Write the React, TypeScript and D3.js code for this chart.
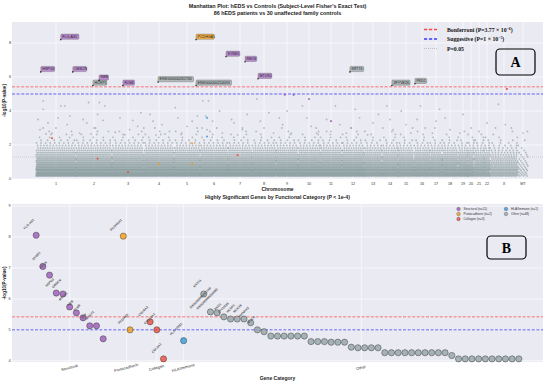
import React from "react";
import * as d3 from "d3";

const W = 550;
const H = 383;

// ---------- Panel A data ----------
const CHROMS = ["1","2","3","4","5","6","7","8","9","10","11","12","13","14","15","16","17","18","19","20","21","22","X","MT"];
// relative genomic span of each chromosome on the axis
const CHROM_SIZES = [40,36,32,30,26,28,24,24,22,22,22,22,18,16,16,16,12,16,10,6,10,6,28,10];
// relative variant density per chromosome
const CHROM_DENSITY = [1,1,1,1,1,1,1,1,1,1,1,1,0.9,0.9,0.9,0.9,0.9,0.9,0.9,0.9,0.8,0.8,0.55,0.25];
// discrete -log10(P) levels produced by the subject-level Fisher test and their point density (points per unit)
const P_LEVELS = [0.18,0.25,0.33,0.41,0.5,0.58,0.67,0.76,0.86,0.96,1.07,1.18,1.3,1.42,1.55,1.68,1.82,1.97,2.12,2.28,2.45,2.62,2.8,3.0];
const LEVEL_DENSITY = [1.1,1.2,1.3,1.3,1.3,1.25,1.2,1.15,1.1,1.0,0.95,0.9,0.8,0.7,0.6,0.5,0.42,0.32,0.22,0.15,0.1,0.065,0.045,0.03];
// sparse variants above the dense band: [chromosome, position fraction, -log10 P]
const OUTLIERS: [string, number, number][] = [
  ["1",0.18,4.6],["1",0.18,4.1],["1",0.62,4.3],["1",0.72,4.3],["1",0.3,3.3],["1",0.5,3.0],["1",0.85,3.7],["1",0.1,2.9],["1",0.4,2.7],["1",0.9,2.6],["1",0.55,3.6],["1",0.25,2.65],["1",0.78,3.2],["1",0.05,3.5],
  ["2",0.35,4.5],["2",0.65,4.5],["2",0.8,4.3],["2",0.2,3.5],["2",0.5,3.0],["2",0.9,2.8],["2",0.1,2.7],["2",0.6,3.8],["2",0.42,2.65],["2",0.3,3.3],["2",0.75,3.45],
  ["3",0.25,3.6],["3",0.55,2.9],["3",0.8,3.1],["3",0.4,2.6],["3",0.9,3.9],["3",0.1,2.75],["3",0.65,3.45],
  ["4",0.2,3.8],["4",0.6,3.2],["4",0.85,2.8],["4",0.4,2.6],["4",0.7,2.65],["4",0.3,3.4],
  ["5",0.05,4.2],["5",0.9,3.7],["5",0.5,3.1],["5",0.3,2.7],["5",0.7,3.4],["5",0.15,3.6],
  ["6",0.1,4.6],["6",0.3,4.6],["6",0.2,3.7],["6",0.6,3.0],["6",0.8,2.7],["6",0.45,3.4],["6",0.25,2.9],["6",0.7,4.0],
  ["7",0.25,3.3],["7",0.6,2.9],["7",0.8,3.8],["7",0.4,2.6],["7",0.15,3.5],
  ["8",0.2,4.7],["8",0.7,3.9],["8",0.5,3.0],["8",0.9,2.7],["8",0.35,3.4],
  ["9",0.3,3.2],["9",0.7,2.7],["9",0.5,4.0],["9",0.15,3.6],
  ["10",0.2,4.3],["10",0.6,3.1],["10",0.85,2.7],["10",0.4,3.6],
  ["11",0.3,3.5],["11",0.7,4.3],["11",0.5,2.8],["11",0.9,3.2],
  ["12",0.4,3.0],["12",0.8,3.6],["12",0.2,2.7],["12",0.6,4.1],
  ["13",0.5,3.3],["13",0.2,2.6],["13",0.8,3.8],
  ["14",0.3,4.3],["14",0.7,2.9],["14",0.5,3.5],
  ["15",0.5,3.2],["15",0.8,2.7],["15",0.2,4.0],
  ["16",0.4,4.3],["16",0.7,3.0],["16",0.2,3.5],
  ["17",0.5,3.4],["17",0.2,2.7],["17",0.8,4.1],
  ["18",0.5,2.9],["18",0.2,3.6],
  ["19",0.5,3.8],["19",0.2,2.7],
  ["20",0.5,3.0],
  ["21",0.5,2.8],
  ["22",0.5,3.3],
  ["X",0.3,4.4],["X",0.6,5.3],["X",0.55,3.2],["X",0.8,2.8],["X",0.2,3.0],
  ["MT",0.5,2.7],
];

const CATEGORIES = ["Structural","Protocadherin","Collagen","HLA/Immune","Other"];
const CAT_COLORS = ["#9b59b6","#f39c12","#e74c3c","#3498db","#95a5a6"];
const LABEL_FILLS = ["#b483cc","#f1a93a","#e8766a","#5dade2","#aab3b4"];

// labeled hits in panel A: [gene, chromosome, position fraction, -log10 P, category index]
const A_HITS: [string, string, number, number, number][] = [
  ["HSPG2","1",0.12,6.3,0],
  ["FLG-AS1","1",0.62,8.2,0],
  ["OBSCN","1",0.92,6.3,0],
  ["HCRP1","2",0.47,5.5,4],
  ["NEB","2",0.64,5.8,0],
  ["FLNB","3",0.34,5.5,0],
  ["ENSG00000261740","4",0.47,5.7,4],
  ["PCDHGA1","5",0.85,8.2,1],
  ["ENSG00000254093","5",0.85,5.5,4],
  ["SYNE1","6",0.93,7.2,0],
  ["RELN","7",0.71,6.9,0],
  ["MTUS1","8",0.25,5.9,0],
  ["KRT74","12",0.36,6.3,4],
  ["ZFYVE26","14",0.62,5.5,4],
  ["PKD1","16",0.06,5.6,4],
];
// unlabeled category highlights in panel A: [chromosome, fraction, -log10 P, category]
const A_HIGHLIGHTS: [string, number, number, number][] = [
  ["1",0.4,2.4,2],["2",0.6,1.2,2],["3",0.5,0.4,2],["5",0.7,2.1,1],["5",0.7,0.9,1],["6",0.25,3.6,3],["6",0.25,2.5,3],
  ["9",0.4,4.95,0],["9",0.8,4.95,0],["10",0.5,4.7,0],["7",0.4,1.4,2],["4",0.5,0.9,1],["X",0.6,5.3,2],["11",0.5,3.4,0],
];

// ---------- Panel B data ----------
const STRUCT_GENES = ["FLG-AS1","SYNE1","RELN","HSPG2","OBSCN","MTUS1","NEB","FLNB","DST","MACF1","TTN"];
const STRUCT_VALUES = [8.06,7.05,6.77,6.19,6.16,5.74,5.55,5.39,5.13,5.13,4.71];
const PCDH_GENES = ["PCDHGA1","PCDHB5"];
const PCDH_VALUES = [8.03,5.0];
const COL_GENES = ["COL6A3","COL12A1","COL5A1"];
const COL_VALUES = [5.26,5.0,4.06];
const HLA_GENES = ["HLA-DRB1"];
const HLA_VALUES = [4.65];
const OTHER_GENES = ["KRT74","ENSG00000261740","ENSG00000254093","PKD1","ZFYVE26","HCRP1","MUC16","AHNAK2","MUC4"];
const OTHER_VALUES = [6.16,5.58,5.55,5.42,5.35,5.35,5.35,5.23,5.0,4.94,
  4.8,4.8,4.8,4.8,4.8,4.8,
  4.62,4.62,4.62,4.6,4.6,4.6,
  4.44,4.42,4.42,4.42,4.42,
  4.26,4.26,4.26,4.26,4.26,4.26,4.26,4.26,4.26,4.26,
  4.17,
  4.06,4.06,4.06,4.06,4.06,4.06,4.06,4.06,4.06,4.06];

const BONF = 5.42; // -log10(3.77e-6)
const SUGG = 5.0;
const NOMINAL = 1.3;

const SANS = "'Liberation Sans', Arial, sans-serif";
const SERIF = "'Liberation Serif', 'DejaVu Serif', serif";

export default function App() {
  // ---- Panel A scales ----
  const starts: number[] = [];
  let acc = 0;
  CHROM_SIZES.forEach((s) => { starts.push(acc); acc += s; });
  const xA = d3.scaleLinear().domain([-24, 507]).range([12, 543]);
  const yA = d3.scaleLinear().domain([0, 9.235]).range([179, 22]);
  const cx = (c: string, f: number) => {
    const i = CHROMS.indexOf(c);
    return xA(starts[i] + f * CHROM_SIZES[i]);
  };

  const dense: { x: number; y: number }[] = [];
  CHROMS.forEach((c, i) => {
    P_LEVELS.forEach((lv, j) => {
      const d = LEVEL_DENSITY[j] * CHROM_DENSITY[i];
      const step = 1 / d;
      const off = (((j * 0.618 + i * 0.37) % 1) * step);
      for (let u = off; u < CHROM_SIZES[i]; u += step) {
        dense.push({ x: xA(starts[i] + u), y: yA(lv) });
      }
    });
  });

  // ---- Panel B ----
  type BP = { gene: string; v: number; cat: number; idx: number; label: boolean };
  const groups: [string[], number[], number][] = [
    [STRUCT_GENES, STRUCT_VALUES, 0],
    [PCDH_GENES, PCDH_VALUES, 1],
    [COL_GENES, COL_VALUES, 2],
    [HLA_GENES, HLA_VALUES, 3],
    [OTHER_GENES, OTHER_VALUES, 4],
  ];
  const bpts: BP[] = [];
  const centers: number[] = [];
  let idx = 0;
  groups.forEach(([genes, vals, cat], gi) => {
    if (gi > 0) idx += 2;
    const first = idx;
    vals.forEach((v, k) => {
      const g = genes[k];
      bpts.push({ gene: g ?? "", v, cat, idx, label: !!g && (v >= 5 || cat === 2 || cat === 3) });
      idx++;
    });
    centers.push((first + idx - 1) / 2);
  });
  const xB = d3.scaleLinear().domain([-3.6, 75.6]).range([12, 543]);
  const yB = d3.scaleLinear().domain([3.96, 9.07]).range([362, 204]);

  const gridA = [0, 2, 4, 6, 8];
  const gridB = [4, 5, 6, 7, 8, 9];

  const labelFont = 3.6;
  return (
    <svg width={W} height={H} style={{ position: "absolute", left: 0, top: 0, background: "#fff" }}>
      {/* Titles */}
      <text x={277.5} y={8} textAnchor="middle" fontFamily={SANS} fontWeight="bold" fontSize={5.4} fill="#222">
        Manhattan Plot: hEDS vs Controls (Subject-Level Fisher's Exact Test)
      </text>
      <text x={277.5} y={15} textAnchor="middle" fontFamily={SANS} fontWeight="bold" fontSize={5.4} fill="#222">
        86 hEDS patients vs 30 unaffected family controls
      </text>

      {/* ---------- Panel A ---------- */}
      <rect x={12} y={22} width={531} height={157} fill="#eaeaf2" />
      {gridA.map((t) => (
        <line key={t} x1={12} x2={543} y1={yA(t)} y2={yA(t)} stroke="#fff" strokeWidth={0.6} />
      ))}
      {CHROMS.map((c, i) => (
        <line key={c} x1={xA(starts[i] + CHROM_SIZES[i] / 2)} x2={xA(starts[i] + CHROM_SIZES[i] / 2)} y1={22} y2={179} stroke="#fff" strokeWidth={0.6} />
      ))}
      <g fill="#859a99" fillOpacity={0.6}>
        {dense.map((p, k) => (
          <circle key={k} cx={p.x} cy={p.y} r={0.9} />
        ))}
        {OUTLIERS.map(([c, f, v], k) => (
          <circle key={"o" + k} cx={cx(c, f)} cy={yA(v)} r={0.9} />
        ))}
      </g>
      {A_HIGHLIGHTS.map(([c, f, v, cat], k) => (
        <circle key={"h" + k} cx={cx(c, f)} cy={yA(v)} r={1.1} fill={CAT_COLORS[cat]} fillOpacity={0.8} />
      ))}
      <line x1={12} x2={543} y1={yA(BONF)} y2={yA(BONF)} stroke="#ff5555" strokeWidth={1} strokeDasharray="3,1.6" opacity={0.8} />
      <line x1={12} x2={543} y1={yA(SUGG)} y2={yA(SUGG)} stroke="#4a4aff" strokeWidth={1} strokeDasharray="3,1.6" opacity={0.85} />
      <line x1={12} x2={543} y1={yA(NOMINAL)} y2={yA(NOMINAL)} stroke="#c8c8cc" strokeWidth={0.8} strokeDasharray="1,1" />

      {A_HITS.map(([g, c, f, v, cat], k) => {
        const px = cx(c, f);
        const py = yA(v);
        const w = g.length * labelFont * 0.6 + 3;
        const h = 5.2;
        return (
          <g key={"lab" + k}>
            <rect x={px} y={py - h - 0.3} width={w} height={h} rx={1} fill={LABEL_FILLS[cat]} fillOpacity={0.9} stroke="#444" strokeWidth={0.3} />
            <text x={px + 1.5} y={py - 1.9} fontFamily={SANS} fontSize={labelFont} fill="#222">{g}</text>
            <circle cx={px} cy={py} r={0.8} fill="#222" />
          </g>
        );
      })}

      {/* axis A */}
      {gridA.map((t) => (
        <text key={t} x={11} y={yA(t) + 1.3} textAnchor="end" fontFamily={SANS} fontSize={3.8} fill="#333">{t}</text>
      ))}
      {CHROMS.map((c, i) => (
        <text key={c} x={xA(starts[i] + CHROM_SIZES[i] / 2)} y={184.5} textAnchor="middle" fontFamily={SANS} fontSize={3.8} fill="#333">{c}</text>
      ))}
      <text x={277.5} y={191} textAnchor="middle" fontFamily={SANS} fontWeight="bold" fontSize={5} fill="#222">Chromosome</text>
      <text transform={`translate(5.5,100.5) rotate(-90)`} textAnchor="middle" fontFamily={SANS} fontWeight="bold" fontSize={4.6} fill="#222">-log10(P-value)</text>

      {/* legend A */}
      <line x1={424} x2={437} y1={29.5} y2={29.5} stroke="#ff4444" strokeWidth={1.3} strokeDasharray="3.2,1.8" />
      <line x1={424} x2={437} y1={39} y2={39} stroke="#3a3aff" strokeWidth={1.3} strokeDasharray="3.2,1.8" />
      <line x1={424} x2={437} y1={48.5} y2={48.5} stroke="#c0c0c6" strokeWidth={1} strokeDasharray="1,1" />
      <g fontFamily={SERIF} fontWeight="bold" fontSize={5.8} fill="#111">
        <text x={447} y={31.5}>Bonferroni (P=3.77 × 10<tspan dy={-2} fontSize={3.8}>−6</tspan><tspan dy={2}>)</tspan></text>
        <text x={447} y={41}>Suggestive (P=1 × 10<tspan dy={-2} fontSize={3.8}>−5</tspan><tspan dy={2}>)</tspan></text>
        <text x={447} y={50.5}>P=0.05</text>
      </g>
      <rect x={496} y={49} width={39} height={26} rx={4} fill="none" stroke="#000" strokeWidth={1.2} />
      <text x={515.5} y={67} textAnchor="middle" fontFamily={SERIF} fontWeight="bold" fontSize={14} fill="#000">A</text>

      {/* ---------- Panel B ---------- */}
      <text x={277.5} y={199} textAnchor="middle" fontFamily={SANS} fontWeight="bold" fontSize={5.2} fill="#222">
        Highly Significant Genes by Functional Category (P &lt; 1e-4)
      </text>
      <rect x={12} y={204} width={531} height={158} fill="#eaeaf2" />
      {gridB.map((t) => (
        <line key={t} x1={12} x2={543} y1={yB(t)} y2={yB(t)} stroke="#fff" strokeWidth={0.6} />
      ))}
      {centers.map((c, i) => (
        <line key={i} x1={xB(c)} x2={xB(c)} y1={204} y2={362} stroke="#fff" strokeWidth={0.6} />
      ))}
      <line x1={12} x2={543} y1={yB(BONF)} y2={yB(BONF)} stroke="#ff5555" strokeWidth={1} strokeDasharray="3,1.6" opacity={0.8} />
      <line x1={12} x2={543} y1={yB(SUGG)} y2={yB(SUGG)} stroke="#4a4aff" strokeWidth={1} strokeDasharray="3,1.6" opacity={0.85} />
      {bpts.map((p, k) => (
        <circle key={k} cx={xB(p.idx)} cy={yB(p.v)} r={3.1} fill={CAT_COLORS[p.cat]} fillOpacity={0.8} stroke="#333" strokeWidth={0.45} />
      ))}
      {bpts.filter((p) => p.label).map((p, k) => {
        const lx = xB(p.idx) - 4 - p.gene.length * 0.35;
        const ly = yB(p.v) - 8 - p.gene.length * 0.35;
        return (
          <text key={k} transform={`translate(${lx},${ly}) rotate(-45)`} textAnchor="middle" fontFamily={SANS} fontSize={3.2} fontWeight="bold" fill="#555">{p.gene}</text>
        );
      })}
      {gridB.map((t) => (
        <text key={t} x={10.5} y={yB(t) + 1.3} textAnchor="end" fontFamily={SANS} fontSize={3.8} fill="#333">{t}</text>
      ))}
      {CATEGORIES.map((c, i) => (
        <text key={c} transform={`translate(${xB(centers[i])},369) rotate(-15)`} textAnchor="middle" fontFamily={SANS} fontSize={4} fill="#333">{c}</text>
      ))}
      <text x={277.5} y={380} textAnchor="middle" fontFamily={SANS} fontWeight="bold" fontSize={5} fill="#222">Gene Category</text>
      <text transform={`translate(5.5,283) rotate(-90)`} textAnchor="middle" fontFamily={SANS} fontWeight="bold" fontSize={4.6} fill="#222">-log10(P-value)</text>

      {/* legend B */}
      {CATEGORIES.map((c, i) => {
        const n = groups[i][1].length;
        const col = i < 3 ? 0 : 1;
        const row = i < 3 ? i : i - 3;
        const lx = col === 0 ? 458.5 : 506;
        const ly = 209 + row * 5;
        return (
          <g key={c}>
            <circle cx={lx} cy={ly} r={1.8} fill={CAT_COLORS[i]} fillOpacity={0.8} stroke="#333" strokeWidth={0.3} />
            <text x={lx + 5} y={ly + 1.1} fontFamily={SANS} fontSize={3.2} fill="#333">{`${c} (n=${n})`}</text>
          </g>
        );
      })}
      <rect x={487} y={236} width={39} height={23} rx={4} fill="none" stroke="#000" strokeWidth={1.2} />
      <text x={506.5} y={252.5} textAnchor="middle" fontFamily={SERIF} fontWeight="bold" fontSize={14} fill="#000">B</text>
    </svg>
  );
}
